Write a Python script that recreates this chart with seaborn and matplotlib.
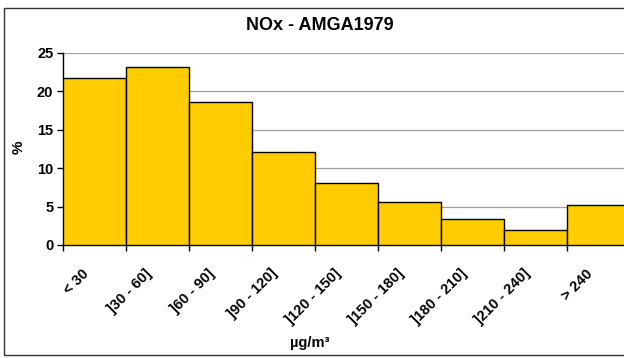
import matplotlib
matplotlib.use("Agg")
import matplotlib.pyplot as plt
import matplotlib.transforms as mtransforms
from matplotlib.patches import Rectangle
import seaborn as sns

# NOx concentration classes and share of measurements (%)
classes = ["< 30", "]30 - 60]", "]60 - 90]", "]90 - 120]", "]120 - 150]",
           "]150 - 180]", "]180 - 210]", "]210 - 240]", "> 240"]
percent = [21.7, 23.2, 18.6, 12.1, 8.1, 5.6, 3.4, 2.0, 5.2]
y_ticks = [0, 5, 10, 15, 20, 25]

sns.set_style("white")
plt.rcParams['font.family'] = ['Liberation Sans', 'DejaVu Sans']
plt.rcParams['font.weight'] = 'bold'
plt.rcParams['text.color'] = 'black'
plt.rcParams['xtick.color'] = 'black'
plt.rcParams['ytick.color'] = 'black'

fig = plt.figure(figsize=(6.24, 3.58), dpi=100)
ax = fig.add_axes([63 / 624, 1 - 245 / 358, 567.5 / 624, 192 / 358])

sns.barplot(x=classes, y=percent, ax=ax, width=1, color="#FFCC00",
            saturation=1, edgecolor="black", linewidth=1, zorder=3)

# axes look
ax.set_ylim(0, 25)
ax.set_xlim(-0.5, len(classes) - 0.5)
ax.set_yticks(y_ticks)
ax.set_yticklabels([str(t) for t in y_ticks], fontsize=10.5, fontweight='bold')
ax.yaxis.grid(True, color="#a0a0a0", linewidth=0.9, zorder=0)
ax.set_axisbelow(True)
for s in ["top", "right"]:
    ax.spines[s].set_visible(False)
for s in ["left", "bottom"]:
    ax.spines[s].set_color("black")
    ax.spines[s].set_linewidth(1)
ax.tick_params(axis='y', direction='out', length=4, width=1, color='black', pad=3, left=True)

# boundary ticks on x, labels centred under bars
ax.set_xticks([i - 0.5 for i in range(len(classes) + 1)], minor=True)
ax.tick_params(axis='x', which='minor', direction='out', length=4, width=1, color='black', bottom=True)
ax.tick_params(axis='x', which='major', length=0, pad=19)
ax.set_xticks(range(len(classes)))
ax.set_xticklabels(classes, rotation=45, ha='right', va='center',
                   rotation_mode='anchor', fontsize=10.5, fontweight='bold')
shift = mtransforms.ScaledTranslation(-6 / 72, 0, fig.dpi_scale_trans)
for lbl in ax.get_xticklabels():
    lbl.set_transform(lbl.get_transform() + shift)
ax.set_xlabel("")
ax.set_ylabel("")

# texts and outer frame
fig.text(320 / 624, 1 - 26 / 358, "NOx - AMGA1979", ha='center', va='center',
         fontsize=13, fontweight='bold')
fig.text(19 / 624, 1 - 147 / 358, "%", rotation=90, ha='center', va='center',
         fontsize=11, fontweight='bold')
fig.text(310 / 624, 1 - 343 / 358, "µg/m³", ha='center', va='center',
         fontsize=10.5, fontweight='bold')
fig.patches.append(Rectangle((4 / 624, 3 / 358), 1, 347 / 358, transform=fig.transFigure,
                             fill=False, edgecolor="#333333", linewidth=1))

fig.savefig("out.png", dpi=100)
